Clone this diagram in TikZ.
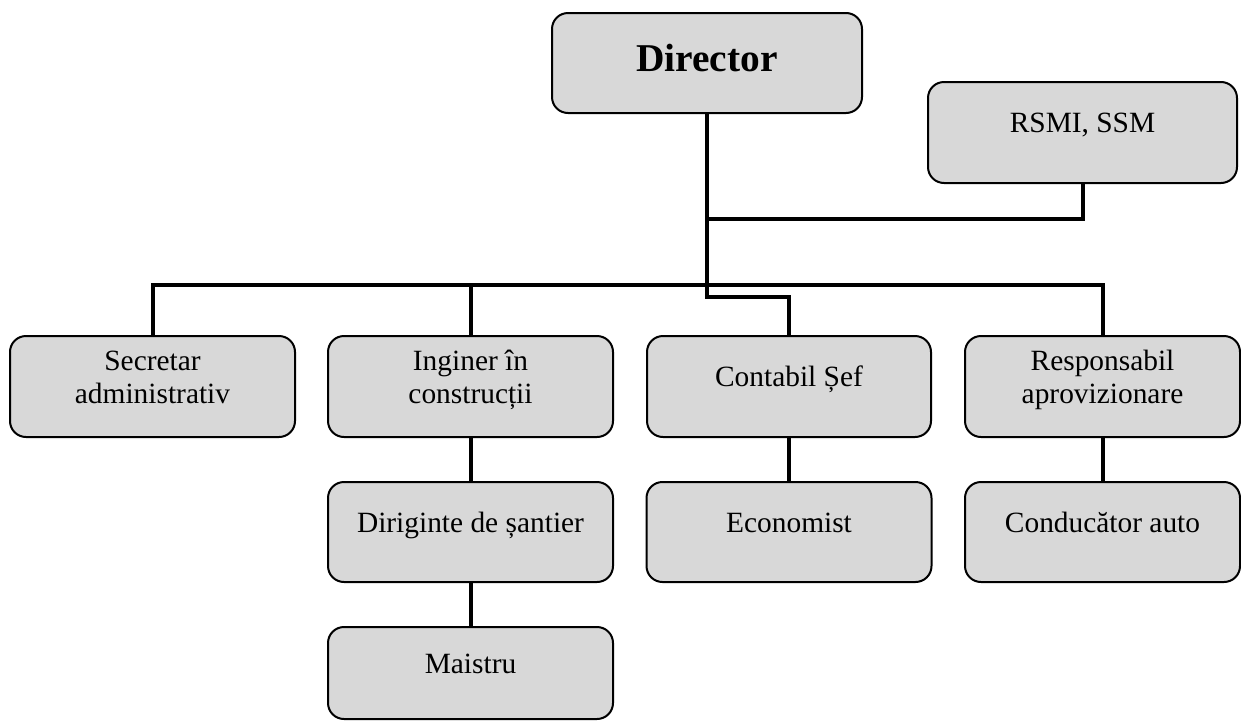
\documentclass[tikz,border=0pt]{standalone}
\usepackage{fontspec}
\setmainfont{Liberation Serif}
\usetikzlibrary{calc}
\definecolor{boxgray}{RGB}{216,216,216}
\newcommand{\onel}[1]{\raisebox{0pt}[0pt][0pt]{#1}}
\newcommand{\twol}[2]{\raisebox{8.25pt}[0pt][0pt]{\begin{tabular}[t]{@{}c@{}}#1\\#2\end{tabular}}}
\begin{document}
\begin{tikzpicture}[x=0.5pt,y=-0.5pt,
  box/.style={draw=black, line width=1pt, rounded corners=8pt, fill=boxgray,
    inner sep=0pt, minimum height=50pt, align=center,
    font=\fontsize{14.7}{16.7}\selectfont},
  conn/.style={line width=2pt, draw=black, line join=miter, line cap=butt}]
\useasboundingbox (0,0) rectangle (1241,723);
% boxes
\node[box, minimum width=155pt] (dir) at (707,63)
  {\raisebox{-4.35pt}[0pt][0pt]{\fontsize{19.7}{22}\selectfont\bfseries Director}};
\node[box, minimum width=154.5pt, minimum height=50.5pt] (rsmi) at (1082.5,132.5) {\onel{RSMI, SSM}};
\node[box, minimum width=142.5pt, minimum height=50.5pt] (sec) at (152.5,386.5) {\twol{Secretar}{administrativ}};
\node[box, minimum width=142.5pt, minimum height=50.5pt] (ing) at (470.5,386.5) {\twol{Inginer în}{construcții}};
\node[box, minimum width=142pt, minimum height=50.5pt] (cont) at (789,386.5) {\onel{Contabil Șef}};
\node[box, minimum width=137.5pt, minimum height=50.5pt] (resp) at (1102.5,386.5) {\twol{Responsabil}{aprovizionare}};
\node[box, minimum width=142.5pt] (dir2) at (470.5,532) {\onel{Diriginte de șantier}};
\node[box, minimum width=142.5pt] (eco) at (789,532) {\onel{Economist}};
\node[box, minimum width=137.5pt] (cond) at (1102.5,532) {\onel{Conducător auto}};
\node[box, minimum width=142.5pt, minimum height=46pt] (mai) at (470.5,673) {\onel{Maistru}};
% helper coordinates
\coordinate (rs) at (0,219);
\coordinate (bar) at (0,285);
\coordinate (jog) at (0,297);
% connectors
\draw[conn] (dir.south) -- (dir.south |- jog) -| (cont.north);
\draw[conn] (dir.south |- rs) -| (rsmi.south);
\draw[conn] (sec.north) |- (resp.north |- bar) -- (resp.north);
\draw[conn] (ing.north |- bar) -- (ing.north);
\draw[conn] (ing.south) -- (dir2.north);
\draw[conn] (dir2.south) -- (mai.north);
\draw[conn] (cont.south) -- (eco.north);
\draw[conn] (resp.south) -- (cond.north);
\end{tikzpicture}
\end{document}
